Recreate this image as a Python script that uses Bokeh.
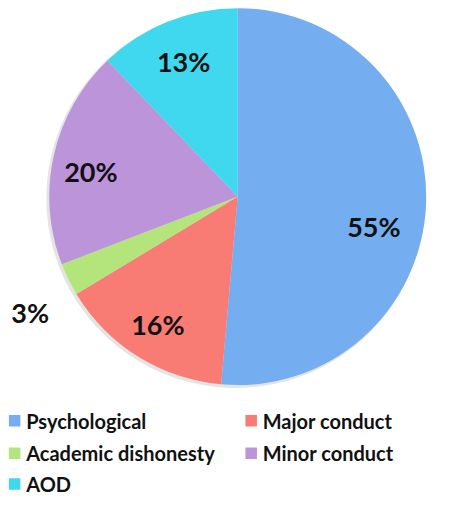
import math
from bokeh.plotting import figure
from bokeh.models import Range1d, ColumnDataSource
from bokeh.core.properties import value
from bokeh.embed import file_html
from bokeh.resources import INLINE

categories = ["Psychological", "Major conduct", "Academic dishonesty", "Minor conduct", "AOD"]
values = [55, 16, 3, 20, 13]
labels = ["55%", "16%", "3%", "20%", "13%"]
colors = ["#74aef0", "#f87c74", "#b4e47c", "#bc94da", "#3fd8ee"]

# layout constants (pixel-like data units, y pointing up = -image y)
CX, CY, R = 252, -202, 196
label_r = [0.74, 0.80, 1.26, 0.79, 0.77]
label_shift = [10, 0, -3, -3, 0]  # degrees clockwise

total = float(sum(values))
starts, ends, lx, ly = [], [], [], []
cum = 0.0
for v, fr, sh in zip(values, label_r, label_shift):
    a0 = math.pi / 2 - cum / total * 2 * math.pi
    mid = (cum + v / 2) / total * 2 * math.pi + math.radians(sh)
    cum += v
    a1 = math.pi / 2 - cum / total * 2 * math.pi
    starts.append(a0)
    ends.append(a1)
    lx.append(CX + fr * R * math.sin(mid))
    ly.append(CY + fr * R * math.cos(mid))

src = ColumnDataSource(dict(cat=categories, val=values, lab=labels, color=colors,
                            start=starts, end=ends, lx=lx, ly=ly))

p = figure(width=436, height=498, output_backend="svg", toolbar_location=None,
           x_range=Range1d(5.3, 458.7), y_range=Range1d(-516, 2),
           min_border=0, outline_line_color=None)
p.axis.visible = False
p.grid.visible = False
p.background_fill_color = "white"

# soft shadow
p.circle(x=CX - 2, y=CY - 2, radius=R + 1, fill_color="#e4e4e4", line_color=None)

p.wedge(x=CX, y=CY, radius=R, start_angle="start", end_angle="end", direction="clock",
        fill_color="color", line_color=None, source=src)

p.text(x="lx", y="ly", text="lab", source=src, text_align="center", text_baseline="middle",
       text_font=value("Lato"), text_font_style="bold", text_font_size="27px",
       text_color="#111111")

# legend (2 columns)
leg_x = [20, 266, 20, 266, 20]
leg_y = [-435, -435, -469, -469, -501]
leg_src = ColumnDataSource(dict(x=leg_x, y=leg_y, tx=[v + 12 for v in leg_x],
                                cat=categories, color=colors))
p.scatter(x="x", y="y", marker="square", size=11.5, fill_color="color", line_color=None,
          source=leg_src)
p.text(x="tx", y="y", text="cat", source=leg_src, text_align="left", text_baseline="middle",
       text_font=value("Lato"), text_font_style="bold", text_font_size="20px",
       text_color="#111111")

open("out.html", "w").write(file_html(p, INLINE))
